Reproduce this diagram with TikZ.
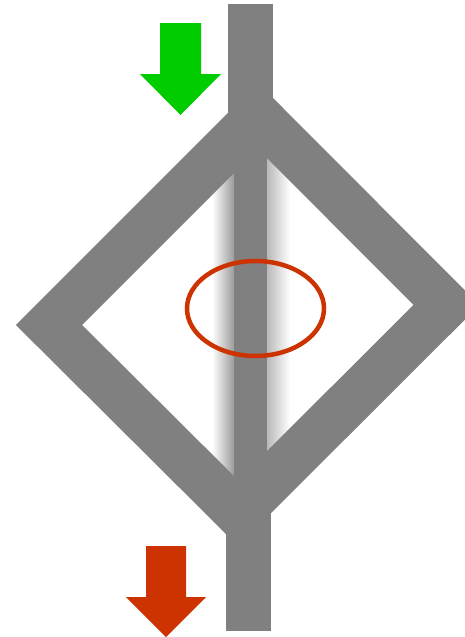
\documentclass[tikz,border=0pt]{standalone}
\usepackage{tikz}
\usepackage{xcolor}
\definecolor{pipegray}{HTML}{808080}
\definecolor{flowin}{HTML}{00CC00}
\definecolor{flowout}{HTML}{CC3300}

\begin{document}
\begin{tikzpicture}[x=1pt,y=-1pt]
\tikzstyle{pipe}=[draw=pipegray,line width=46.7pt,line join=miter]
\tikzstyle{bar}=[fill=pipegray]
\tikzstyle{flowarrow}=[draw=none]
\useasboundingbox (0,0) rectangle (465,637);
% corners of the loop (centre line)
\coordinate (west) at (49,325);
\coordinate (north) at (258,116);
\coordinate (east) at (446.5,305);
\coordinate (south) at (238,513);
% blurred middle branch
\shade[left color=white,right color=pipegray!78!white] (212,140) rectangle (234,490);
\fill[pipegray] (233.5,140) rectangle (267.5,490);
\shade[left color=pipegray!55!white,right color=white] (267,140) rectangle (290,490);
% the loop and the pipe in and out
\draw[pipe] (west) -- (north) -- (east) -- (south) -- cycle;
\fill[bar] (228,4) rectangle (273,120);
\fill[bar] (226,505) rectangle (271,631);
% marked spot
\draw[flowout,line width=4.5pt] (255.5,308.5) ellipse [x radius=68.5pt,y radius=47.5pt];
% flow direction
\fill[flowin,flowarrow] (160,23) -- (201,23) -- (201,74) -- (221,74) -- (180.5,115)
  -- (140,74) -- (160,74) -- cycle;
\fill[flowout,flowarrow] (146,546) -- (186,546) -- (186,597) -- (206,597) -- (166,637)
  -- (126,597) -- (146,597) -- cycle;
\end{tikzpicture}
\end{document}
